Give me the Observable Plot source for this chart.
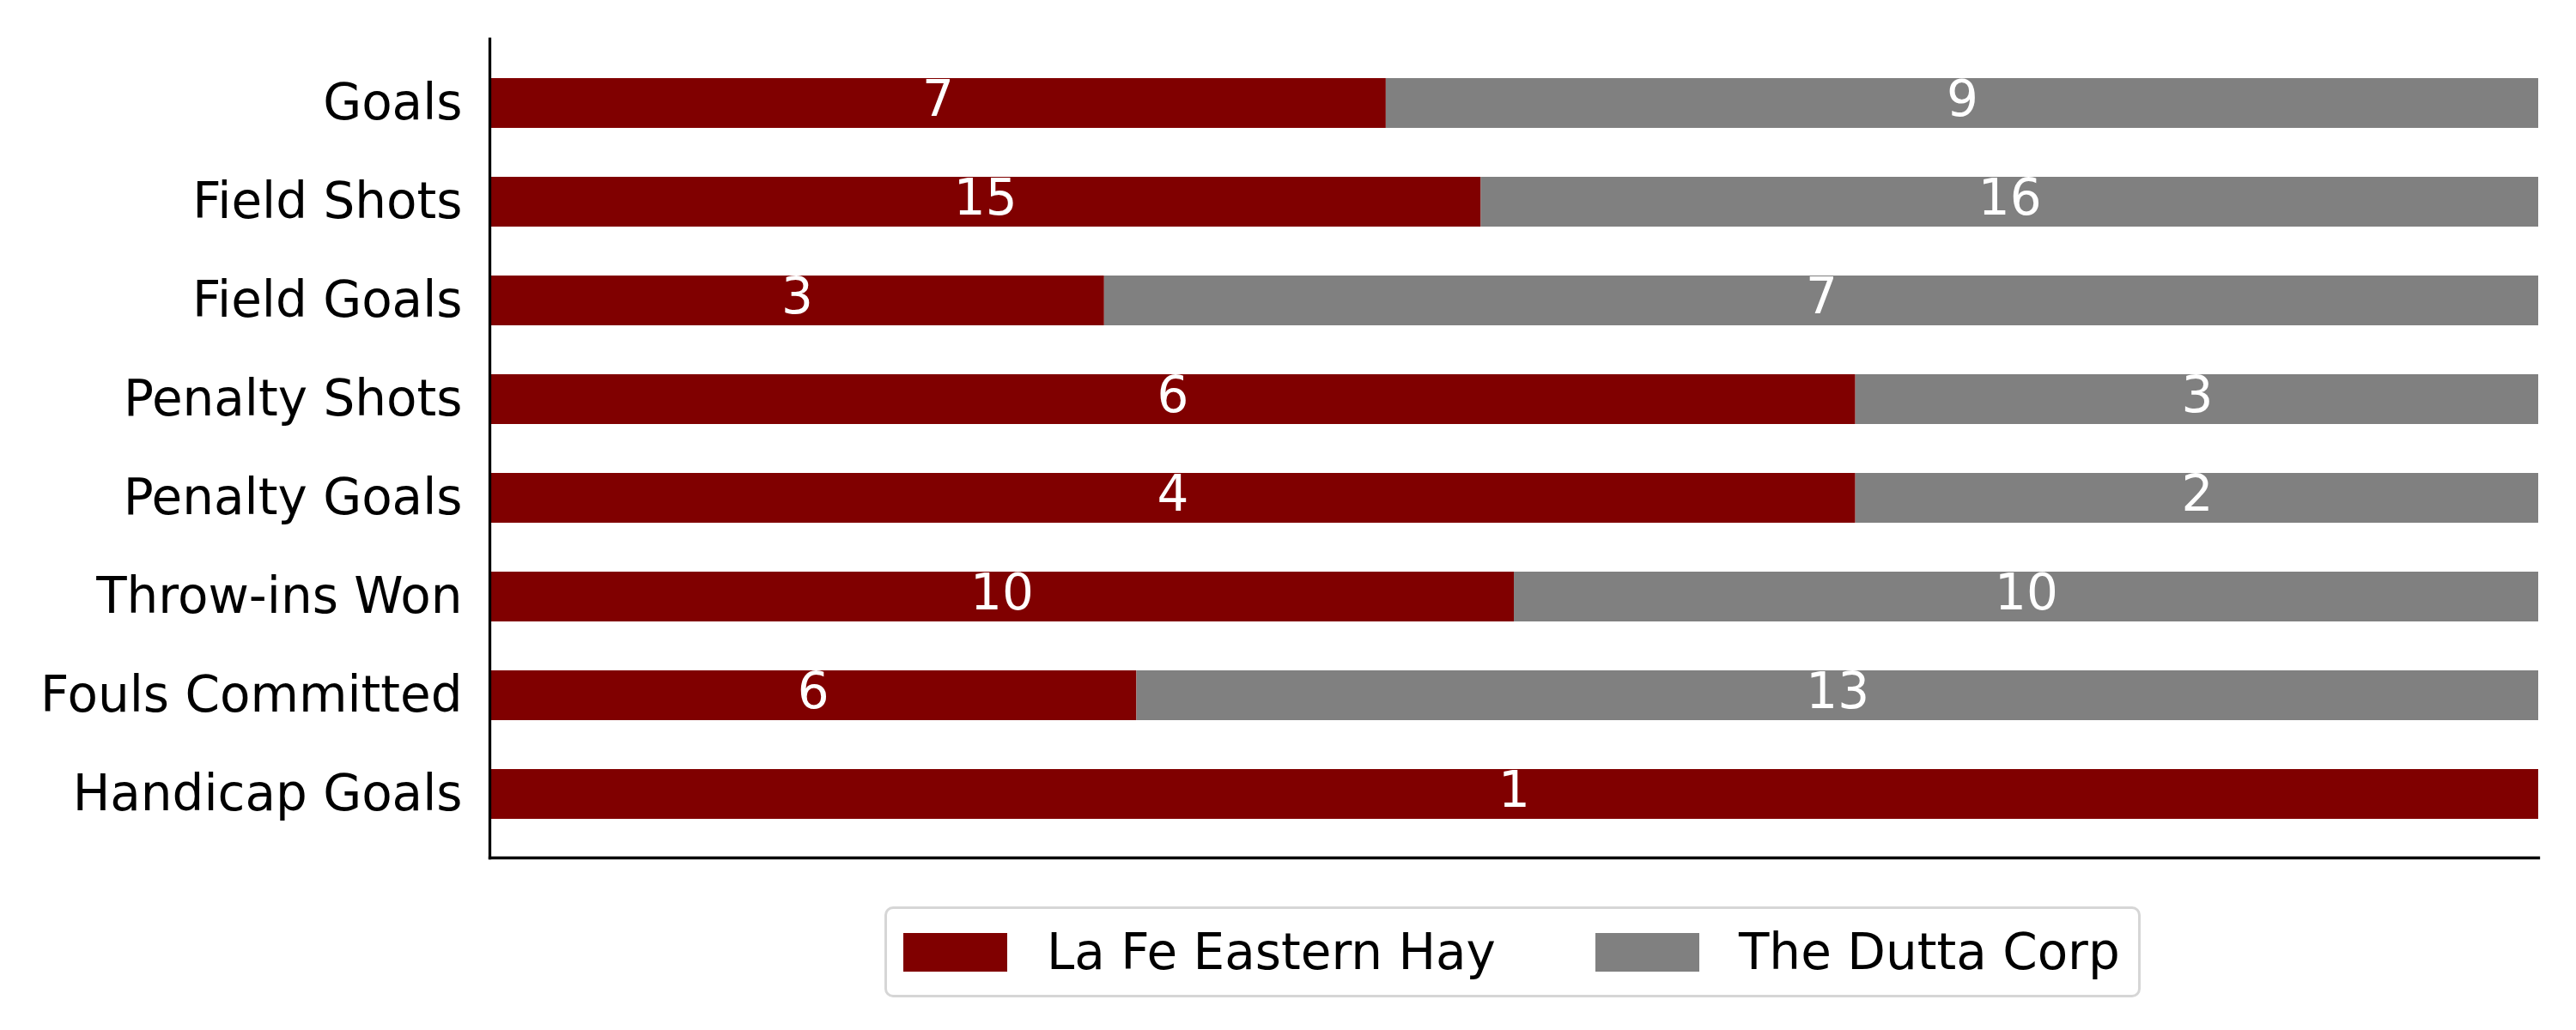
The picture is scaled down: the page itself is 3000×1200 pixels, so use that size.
<!DOCTYPE html>
<html>
<head>
<meta charset="utf-8">
<script src="https://cdn.jsdelivr.net/npm/d3@7"></script>
<script src="https://cdn.jsdelivr.net/npm/@observablehq/plot@0.6"></script>
<style>
html, body { margin: 0; padding: 0; background: #fff; }
#wrap { position: relative; width: 3000px; height: 1200px; background: #fff; font-family: "DejaVu Sans", sans-serif; }
#legend { position: absolute; left: 1030px; top: 1056px; width: 1463px; height: 106px; box-sizing: border-box;
  border: 3px solid #d6d6d6; border-radius: 10px; display: flex; align-items: center; padding-left: 19px;
  font-size: 58px; color: #000; background: #fff; }
#legend .sw { width: 121px; height: 45px; display: inline-block; flex: none; }
#legend .lab { margin-left: 46px; white-space: nowrap; line-height: 1; }
#legend .item + .item { margin-left: 116px; }
#legend .item { display: flex; align-items: center; }
</style>
</head>
<body>
<div id="wrap"><div id="chart"></div><div id="legend"></div></div>
<script>
const categories = ["Goals", "Field Shots", "Field Goals", "Penalty Shots", "Penalty Goals", "Throw-ins Won", "Fouls Committed", "Handicap Goals"];
const teams = ["La Fe Eastern Hay", "The Dutta Corp"];
const laFeValues = [7, 15, 3, 6, 4, 10, 6, 1];
const duttaValues = [9, 16, 7, 3, 2, 10, 13, 0];
const teamColors = ["#800000", "#808080"];

const rows = [];
categories.forEach((c, i) => {
  rows.push({cat: c, team: teams[0], value: laFeValues[i]});
  rows.push({cat: c, team: teams[1], value: duttaValues[i]});
});

const chart = Plot.plot({
  width: 3000,
  height: 1040,
  marginLeft: 570,
  marginRight: 44,
  marginTop: 45,
  marginBottom: 41,
  style: {fontFamily: '"DejaVu Sans", sans-serif', background: "#fff", color: "#000"},
  x: {domain: [0, 1], axis: null},
  y: {domain: categories, paddingInner: 0.5, paddingOuter: 0.375, label: null, axis: null},
  color: {domain: teams, range: teamColors},
  marks: [
    Plot.barX(rows, Plot.stackX({x: "value", y: "cat", fill: "team", offset: "normalize"})),
    Plot.text(rows, Plot.stackX({x: "value", y: "cat", z: "team", offset: "normalize",
      text: d => d.value > 0 ? String(d.value) : "", fill: "white", fontSize: 58, dy: -4})),
    Plot.axisY({tickSize: 0, tickPadding: 32, fontSize: 58, label: null}),
    Plot.frame({anchor: "left", strokeWidth: 3.3, stroke: "#000"}),
    Plot.frame({anchor: "bottom", strokeWidth: 3.3, stroke: "#000"})
  ]
});
document.getElementById("chart").appendChild(chart);

const legend = document.getElementById("legend");
teams.forEach((t, i) => {
  const item = document.createElement("div");
  item.className = "item";
  const sw = document.createElement("span");
  sw.className = "sw";
  sw.style.background = teamColors[i];
  const lab = document.createElement("span");
  lab.className = "lab";
  lab.textContent = t;
  item.appendChild(sw);
  item.appendChild(lab);
  legend.appendChild(item);
});
</script>
</body>
</html>
